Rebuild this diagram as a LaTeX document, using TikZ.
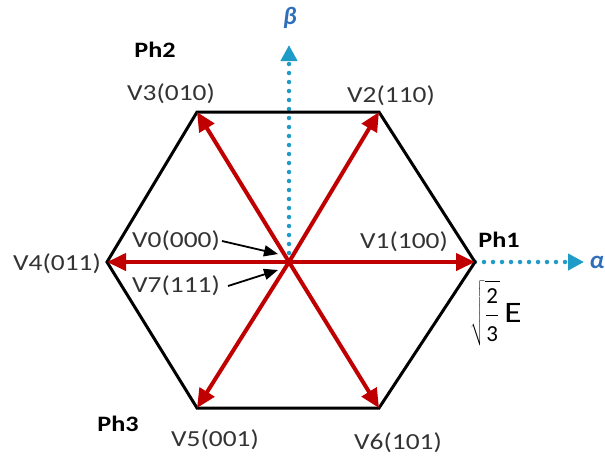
\documentclass[tikz,border=0pt]{standalone}
\usepackage{fontspec}
\usepackage{graphicx}
\setmainfont{Carlito}
\usetikzlibrary{arrows.meta}
\definecolor{vred}{HTML}{C00000}
\definecolor{axblue}{HTML}{1F9BC8}
\definecolor{grblue}{HTML}{2F6EBA}
\newcommand\sx[1]{\scalebox{1.19}[1]{#1}}
\tikzset{
  hexline/.style={black, line width=3pt, line join=miter},
  vec/.style={vred, line width=4pt, -{Triangle[length=19pt,width=17pt]}, shorten <=0pt},
  axis/.style={axblue, line width=4.5pt, line cap=round, dash pattern=on 0pt off 9pt, -{Triangle[length=16pt,width=16pt,line cap=butt]}},
  lab/.style={inner sep=0pt, text=black!80, font=\fontsize{23}{27}\selectfont},
  ph/.style={inner sep=0pt, font=\fontsize{22}{26}\selectfont\bfseries},
  greek/.style={inner sep=0pt, text=grblue, font=\fontsize{25}{29}\selectfont\bfseries\itshape},
  pointer/.style={black, line width=1.8pt, -{Triangle[length=14pt,width=11pt]}}
}
\begin{document}
\begin{tikzpicture}[x=1pt,y=-1pt]
\useasboundingbox (0,0) rectangle (605,459);
\coordinate (O) at (289,262);
\coordinate (v1) at (475,262);
\coordinate (v2) at (379,112);
\coordinate (v3) at (197,112);
\coordinate (v4) at (107,262);
\coordinate (v5) at (197,408);
\coordinate (v6) at (379,408);
\coordinate (bt) at (289,45);
\coordinate (at) at (584,262);
% axes
\draw[axis] (O) -- (bt);
\draw[axis] (v1) -- (at);
% hexagon
\draw[hexline] (v1) -- (v2) -- (v3) -- (v4) -- (v5) -- (v6) -- cycle;
% vectors
\foreach \v in {v1,v2,v3,v4,v5,v6} \draw[vec] (O) -- (\v);
% labels
\node[lab] (l3) at (171,94) {\sx{V3(010)}};
\node[lab] (l2) at (391,96) {\sx{V2(110)}};
\node[lab] (l1) at (404,242) {\sx{V1(100)}};
\node[lab] (l4) at (57,264) {\sx{V4(011)}};
\node[lab] (l5) at (215,440) {\sx{V5(001)}};
\node[lab] (l6) at (398,443) {\sx{V6(101)}};
\node[lab] (l0) at (176,241) {\sx{V0(000)}};
\node[lab] (l7) at (176,286) {\sx{V7(111)}};
\node[ph] (p2) at (155,50) {\sx{Ph2}};
\node[ph] (p1) at (499,240) {\sx{Ph1}};
\node[ph] (p3) at (118,424) {\sx{Ph3}};
\node[greek] (beta) at (290,18) {β};
\node[greek] (alpha) at (597,262) {α};
\node[inner sep=0pt, font=\fontsize{22}{26}\selectfont] (e) at (496,313) {\scalebox{1.35}{$\displaystyle\sqrt{\frac{\mbox{\fontsize{17}{20}\selectfont 2}}{\mbox{\fontsize{17}{20}\selectfont 3}}}\,$\sx{E}}};
\coordinate (p0) at (278,254);
\coordinate (p7) at (278,270);
\draw[pointer] (l0.east) ++(2,0) -- (p0);
\draw[pointer] (l7.east) ++(8,0) -- (p7);
\end{tikzpicture}
\end{document}
